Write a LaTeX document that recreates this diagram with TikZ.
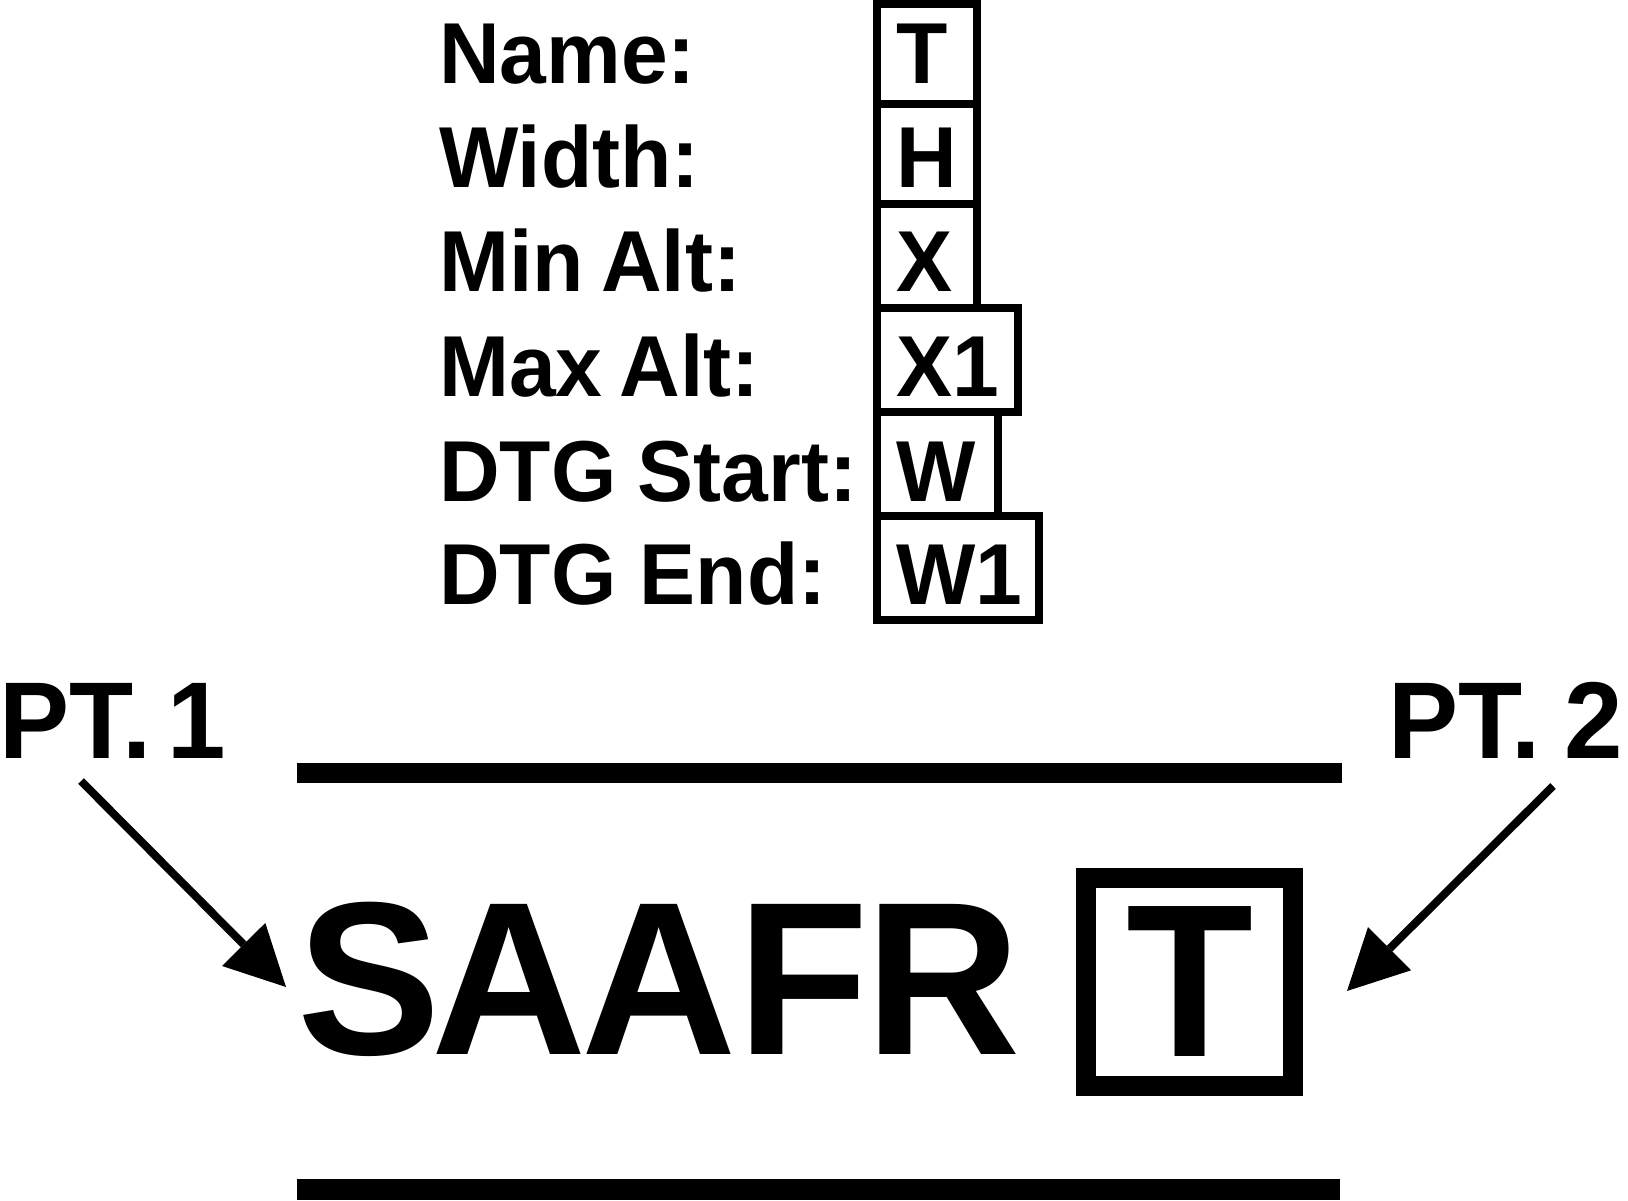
\documentclass[tikz,border=0pt]{standalone}
\usepackage{fontspec}
\setmainfont{Liberation Sans}
\usetikzlibrary{arrows.meta}
\newcommand\mytall[2]{\scalebox{1}[#1]{#2}}
\tikzset{
  lab/.style={anchor=base west, inner sep=0pt, font=\fontsize{84}{84}\selectfont\bfseries},
  celltxt/.style={anchor=base west, inner sep=0pt, font=\fontsize{84}{84}\selectfont\bfseries},
  cell/.style={draw, line width=8pt, anchor=north west, inner sep=0pt, outer sep=0pt},
  pttxt/.style={anchor=base west, inner sep=0pt, font=\fontsize{105}{105}\selectfont\bfseries},
  bigtxt/.style={anchor=base west, inner sep=0pt, font=\fontsize{215}{215}\selectfont\bfseries},
  boxtxt/.style={anchor=base, inner sep=0pt, font=\fontsize{208}{208}\selectfont\bfseries},
  bigbox/.style={draw, line width=20.5pt, inner sep=0pt, outer sep=0pt, minimum width=207pt, minimum height=208pt},
  rule/.style={line width=20.5pt, line cap=butt},
  ptarrow/.style={line width=8pt, line cap=butt, -{Triangle[length=60pt,width=61pt,line width=0pt]}}
}
\begin{document}
\begin{tikzpicture}[x=1pt,y=-1pt]
\useasboundingbox (0,0) rectangle (1628,1200);
% labels
\node[lab] (lname) at (439,83) {\mytall{1.03}{Name:}};
\node[lab] (lwidth) at (439,187) {\mytall{1.03}{Width:}};
\node[lab] (lmin) at (439,291) {\mytall{1.03}{Min\ \kern-6pt Alt:}};
\node[lab] (lmax) at (439,396) {\mytall{1.03}{Max\ \kern-6pt Alt:}};
\node[lab] (lstart) at (439,501) {\mytall{1.03}{DTG\ \kern-2pt Start:}};
\node[lab] (lend) at (439,604) {\mytall{1.03}{DTG End:}};
% cells
\node[cell, minimum width=100.5pt, minimum height=100pt] (cT) at (876.5,3.5) {};
\node[cell, minimum width=100.5pt, minimum height=100.5pt] (cH) at (876.5,103.5) {};
\node[cell, minimum width=100.5pt, minimum height=104pt] (cX) at (876.5,204) {};
\node[cell, minimum width=141.5pt, minimum height=104pt] (cX1) at (876.5,308) {};
\node[cell, minimum width=121.5pt, minimum height=104pt] (cW) at (876.5,412) {};
\node[cell, minimum width=162.5pt, minimum height=104pt] (cW1) at (876.5,516) {};
\node[celltxt] (tT) at (896,83) {\mytall{1.03}{T}};
\node[celltxt] (tH) at (896,187) {\mytall{1.03}{H}};
\node[celltxt] (tX) at (896,291) {\mytall{1.03}{X}};
\node[celltxt] (tX1) at (896,396) {\mytall{1.03}{X1}};
\node[celltxt] (tW) at (896,501) {\mytall{1.03}{W}};
\node[celltxt] (tW1) at (896,604) {\mytall{1.03}{W1}};
% points
\node[pttxt] (pt1) at (-1,758) {\mytall{1.04}{PT\kern-11pt.\kern-13pt\ 1}};
\node[pttxt] (pt2) at (1388,758) {\mytall{1.04}{PT\kern-11pt.\kern-5pt\ 2}};
% rules
\coordinate (r1a) at (297,773);
\coordinate (r1b) at (1342,773);
\coordinate (r2a) at (297,1189.5);
\coordinate (r2b) at (1340,1189.5);
\draw[rule] (r1a) -- (r1b);
\draw[rule] (r2a) -- (r2b);
% main text
\node[bigtxt] (saafr) at (297,1054) {\mytall{1.015}{S\kern-9.4ptA\kern-5ptA\kern1ptF\kern-4ptR}};
\node[bigbox] (tbox) at (1189.5,982) {};
\node[boxtxt] (tbig) at (1190,1056) {\mytall{1.048}{T}};
% arrows
\coordinate (a1s) at (81,781);
\coordinate (a1t) at (286,987);
\coordinate (a2s) at (1553,786);
\coordinate (a2t) at (1347,991);
\draw[ptarrow] (a1s) -- (a1t);
\draw[ptarrow] (a2s) -- (a2t);
\end{tikzpicture}
\end{document}
